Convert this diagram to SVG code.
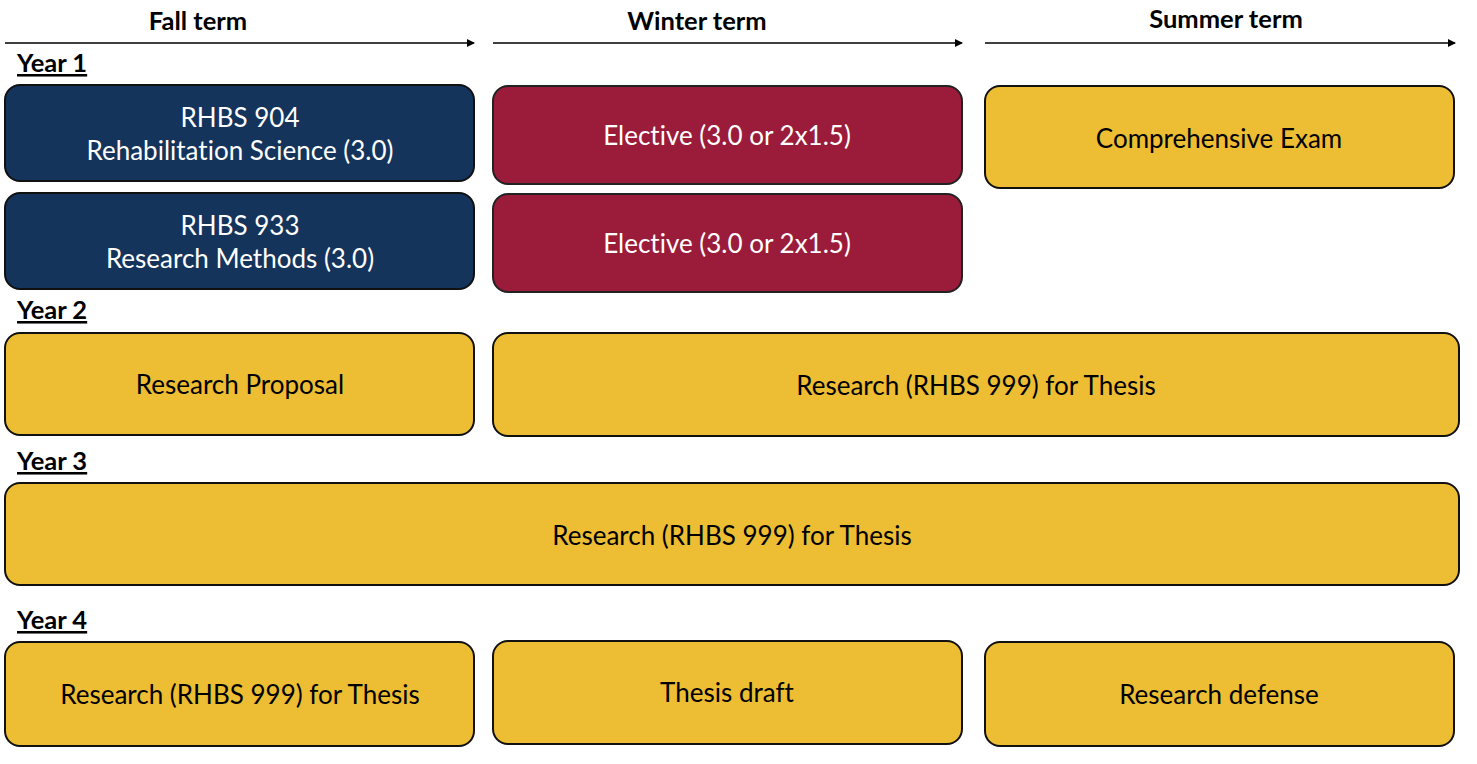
<svg xmlns="http://www.w3.org/2000/svg" width="1477" height="764" viewBox="0 0 1477 764">
<style>
text{font-variant-ligatures:none;font-feature-settings:"liga" 0}
.hdr{font-family:Lato,"Open Sans",sans-serif;font-weight:bold;font-size:25.5px;fill:#000;text-anchor:middle}
.yr{font-family:Lato,"Open Sans",sans-serif;font-weight:bold;font-size:25.5px;fill:#000;text-decoration:underline}
.t{font-family:Lato,"Open Sans",sans-serif;font-size:26px;text-anchor:middle;dominant-baseline:central}
.w{fill:#fff}.k{fill:#000}
.navy{fill:#14345C;stroke:#111;stroke-width:2}
.red{fill:#9B1B3A;stroke:#222;stroke-width:2}
.gold{fill:#EDBD33;stroke:#111;stroke-width:2}
.ax{stroke:#000;stroke-width:1.5;fill:none}
</style>
<defs>
<marker id="ah" markerWidth="8" markerHeight="8" refX="7" refY="4" orient="auto" markerUnits="userSpaceOnUse">
<path d="M0,0 L8,4 L0,8 Z" fill="#000"/>
</marker>
</defs>
<rect width="1477" height="764" fill="#fff"/>
<g id="headers">
<text class="hdr" x="198" y="30">Fall term</text>
<text class="hdr" x="697" y="30">Winter term</text>
<text class="hdr" x="1226" y="28">Summer term</text>
</g>
<g id="connectors">
<line class="ax" x1="5" y1="43" x2="474" y2="43" marker-end="url(#ah)"/>
<line class="ax" x1="493" y1="43" x2="962" y2="43" marker-end="url(#ah)"/>
<line class="ax" x1="985" y1="43" x2="1455" y2="43" marker-end="url(#ah)"/>
</g>
<g id="years">
<text class="yr" x="17" y="72">Year 1</text>
<text class="yr" x="17" y="319">Year 2</text>
<text class="yr" x="17" y="470">Year 3</text>
<text class="yr" x="17" y="629">Year 4</text>
</g>
<g id="rhbs904"><rect class="navy" x="5" y="85" width="469" height="96" rx="15"/>
<text class="t w" x="240" y="117">RHBS 904</text><text class="t w" x="240" y="150">Rehabilitation Science (3.0)</text></g>
<g id="rhbs933"><rect class="navy" x="5" y="193" width="469" height="96" rx="15"/>
<text class="t w" x="240" y="225">RHBS 933</text><text class="t w" x="240" y="258">Research Methods (3.0)</text></g>
<g id="elective1"><rect class="red" x="493" y="86" width="469" height="98" rx="15"/>
<text class="t w" x="727" y="135">Elective (3.0 or 2x1.5)</text></g>
<g id="elective2"><rect class="red" x="493" y="194" width="469" height="98" rx="15"/>
<text class="t w" x="727" y="243">Elective (3.0 or 2x1.5)</text></g>
<g id="comprehensive"><rect class="gold" x="985" y="86" width="469" height="102" rx="15"/>
<text class="t k" x="1219" y="138">Comprehensive Exam</text></g>
<g id="proposal"><rect class="gold" x="5" y="333" width="469" height="102" rx="15"/>
<text class="t k" x="240" y="384">Research Proposal</text></g>
<g id="research-y2"><rect class="gold" x="493" y="333" width="966" height="103" rx="15"/>
<text class="t k" x="976" y="385">Research (RHBS 999) for Thesis</text></g>
<g id="research-y3"><rect class="gold" x="5" y="483" width="1454" height="102" rx="15"/>
<text class="t k" x="732" y="535">Research (RHBS 999) for Thesis</text></g>
<g id="research-y4"><rect class="gold" x="5" y="642" width="469" height="104" rx="15"/>
<text class="t k" x="240" y="694">Research (RHBS 999) for Thesis</text></g>
<g id="thesis-draft"><rect class="gold" x="493" y="641" width="469" height="103" rx="15"/>
<text class="t k" x="727" y="692">Thesis draft</text></g>
<g id="defense"><rect class="gold" x="985" y="642" width="469" height="104" rx="15"/>
<text class="t k" x="1219" y="694">Research defense</text></g>
</svg>
